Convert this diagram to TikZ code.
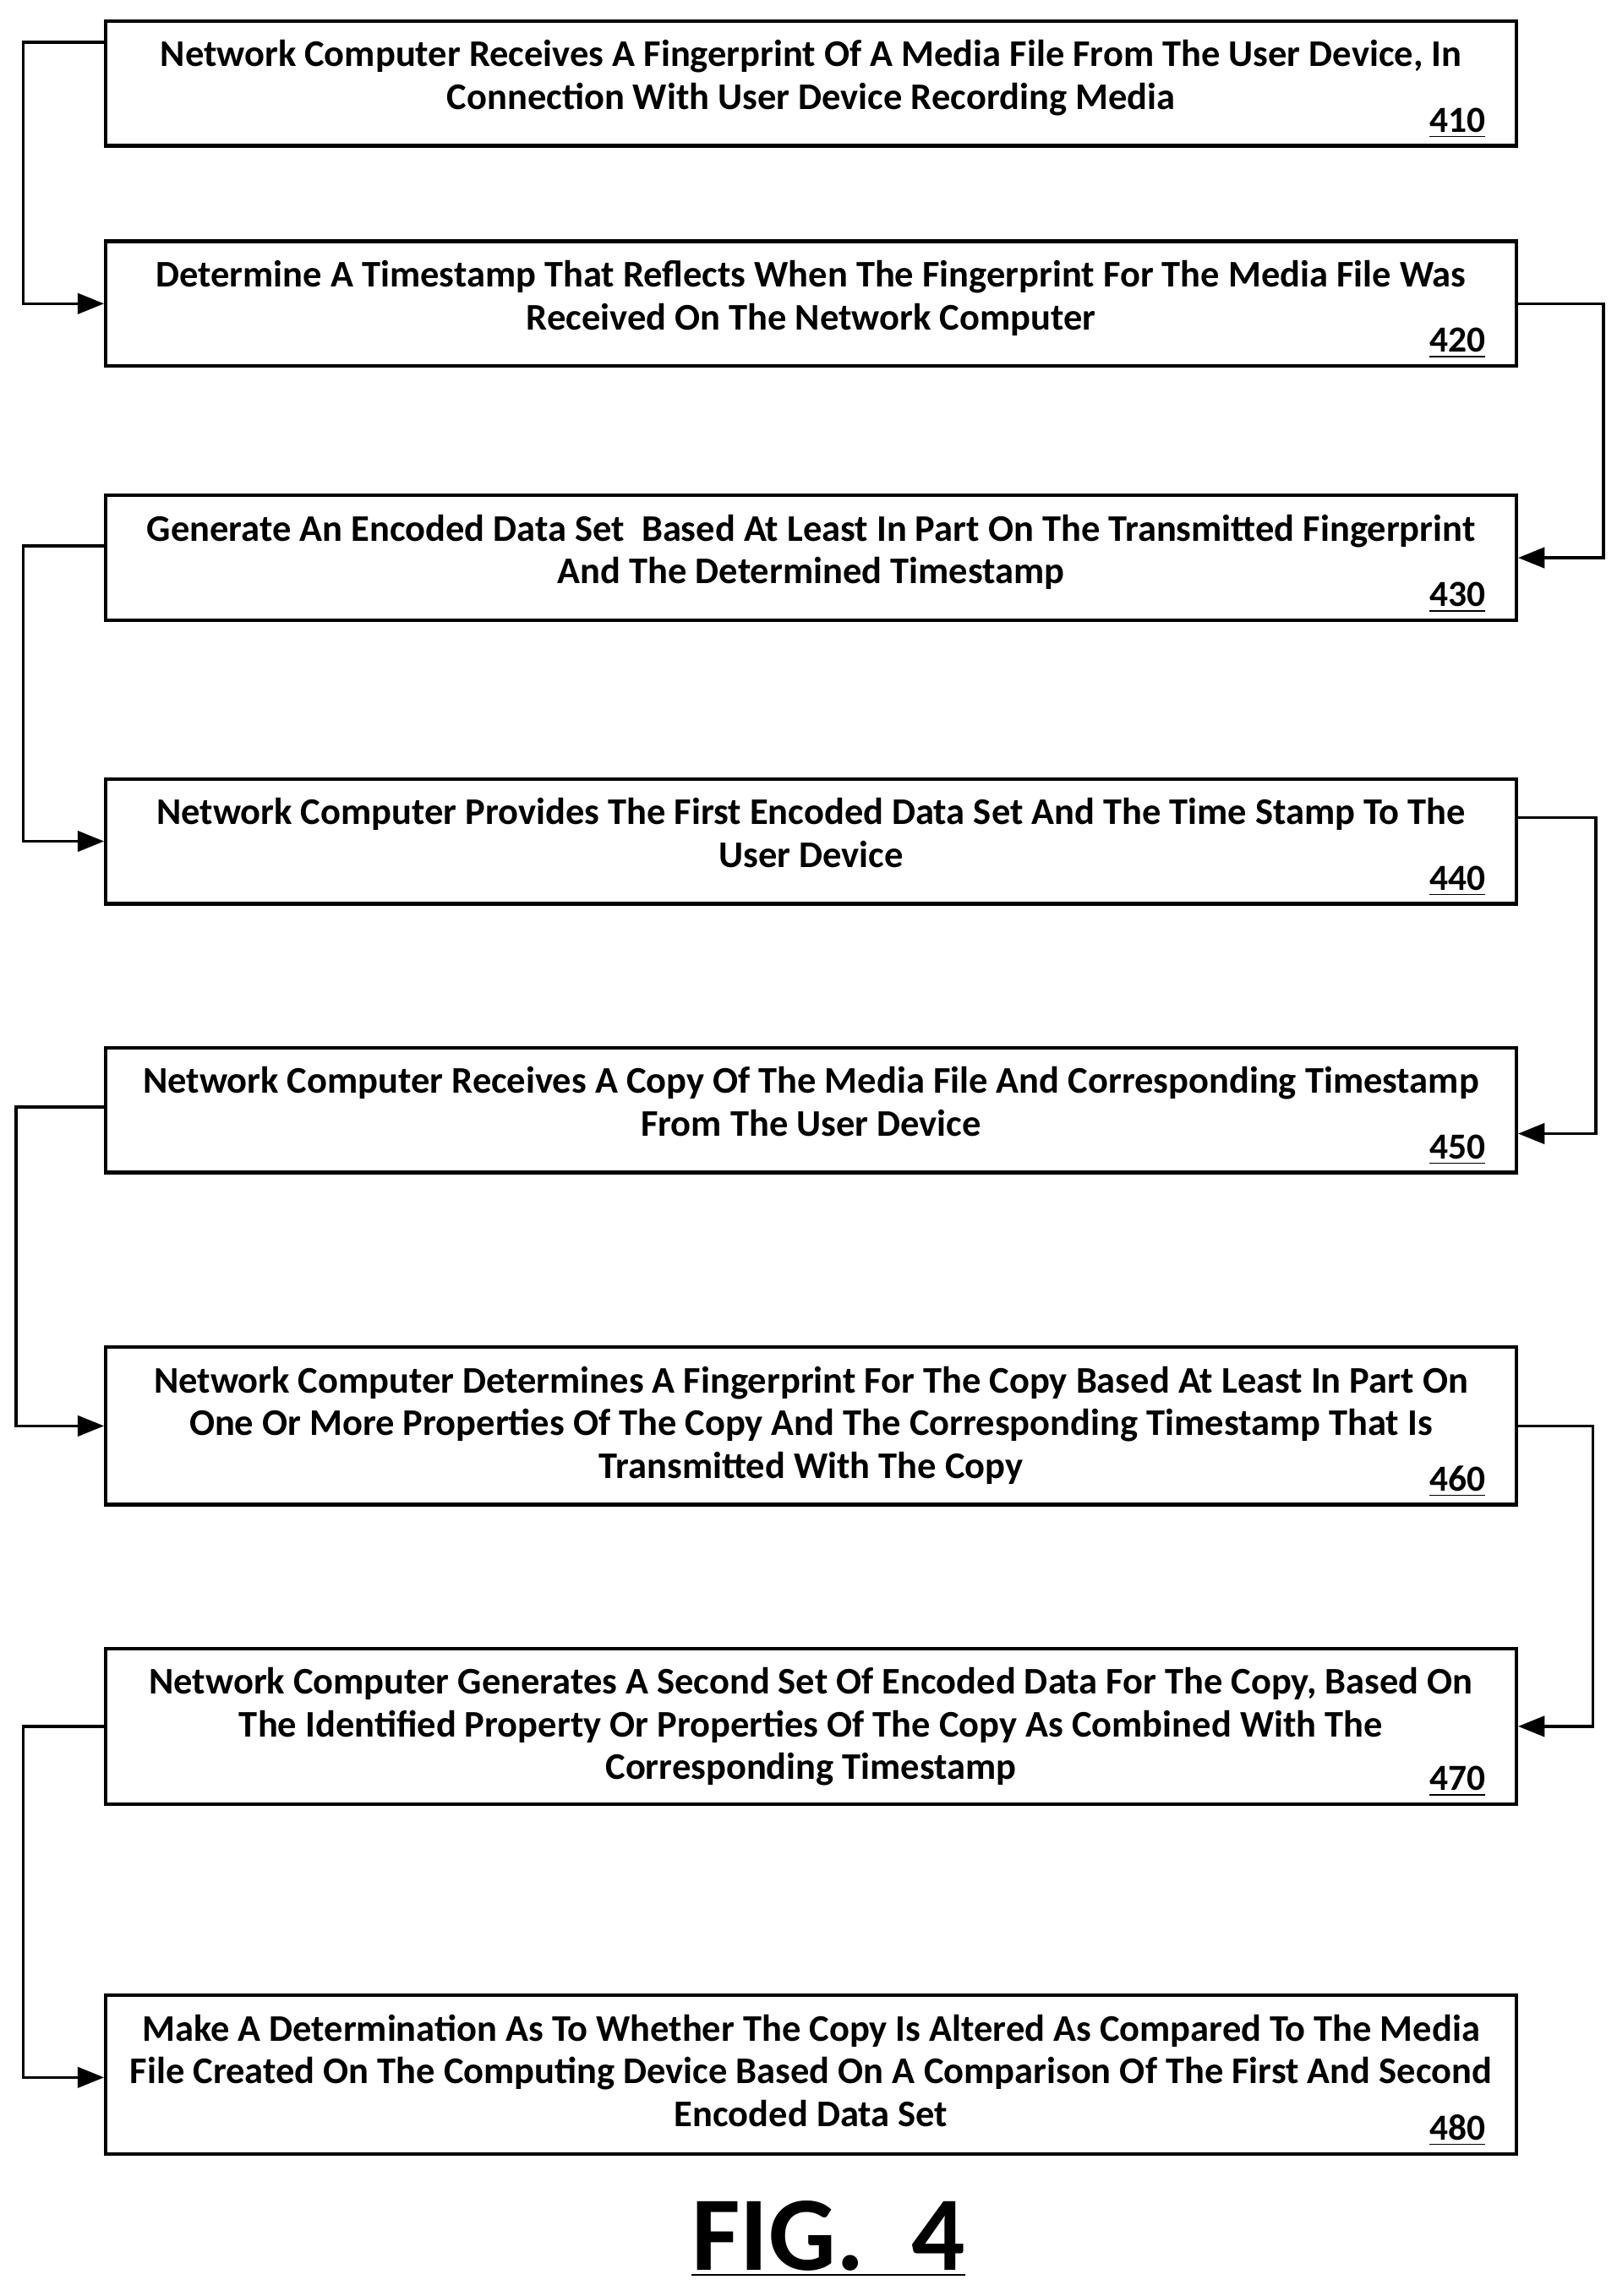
\documentclass[tikz,border=0pt]{standalone}
\usepackage{fontspec}
\setmainfont{Carlito}
\usetikzlibrary{arrows.meta}
\tikzset{
  stepbox/.style={draw, line width=1.2pt, minimum width=480pt, inner sep=0pt},
  steptext/.style={below, align=center, font=\bfseries\fontsize{12.8}{14.5}\selectfont, inner sep=0pt},
  stepnum/.style={anchor=south east, font=\bfseries\fontsize{12.5}{14}\selectfont, inner sep=0pt},
  flow/.style={line width=1pt, -{Triangle[length=9pt,width=7pt]}}
}
\newcommand{\stepnode}[5]{%
  \node[stepbox, minimum height=#3pt, anchor=north] (b#1) at (276pt,-#2pt) {};
  \node[steptext] (t#1) at ([yshift=-7pt]b#1.north) {#4};
  \node[stepnum] (n#1) at ([xshift=-11pt,yshift=3pt]b#1.south east) {\underline{#5}};
}
\begin{document}
\begin{tikzpicture}
\useasboundingbox (0,0) rectangle (550pt,-781.5pt);
\stepnode{410}{6.5}{42.5}{Network Computer Receives A Fingerprint Of A Media File From The User Device, In\\ Connection With User Device Recording Media}{410}
\stepnode{420}{81.5}{42.5}{Determine A Timestamp That Reflects When The Fingerprint For The Media File Was\\ Received On The Network Computer}{420}
\stepnode{430}{168}{42.5}{Generate An Encoded Data Set\ \ Based At Least In Part On The Transmitted Fingerprint\\ And The Determined Timestamp}{430}
\stepnode{440}{264.5}{42.5}{Network Computer Provides The First Encoded Data Set And The Time Stamp To The\\ User Device}{440}
\stepnode{450}{356}{42.5}{Network Computer Receives A Copy Of The Media File And Corresponding Timestamp\\ From The User Device}{450}
\stepnode{460}{458}{53.5}{Network Computer Determines A Fingerprint For The Copy Based At Least In Part On\\ One Or More Properties Of The Copy And The Corresponding Timestamp That Is\\ Transmitted With The Copy}{460}
\stepnode{470}{560.5}{53}{Network Computer Generates A Second Set Of Encoded Data For The Copy, Based On\\ The Identified Property Or Properties Of The Copy As Combined With The\\ Corresponding Timestamp}{470}
\stepnode{480}{678.5}{54}{Make A Determination As To Whether The Copy Is Altered As Compared To The Media\\ File Created On The Computing Device Based On A Comparison Of The First And Second\\ Encoded Data Set}{480}

\draw[flow] ([yshift=14pt]b410.west) -- ++(-27.5pt,0) |- (b420.west);
\draw[flow] (b420.east) -- ++(29pt,0) |- (b430.east);
\draw[flow] ([yshift=4pt]b430.west) -- ++(-27.5pt,0) |- (b440.west);
\draw[flow] ([yshift=8pt]b440.east) -- ++(26.5pt,0) |- ([yshift=-8pt]b450.east);
\draw[flow] ([yshift=1pt]b450.west) -- ++(-30pt,0) |- (b460.west);
\draw[flow] (b460.east) -- ++(25.5pt,0) |- (b470.east);
\draw[flow] (b470.west) -- ++(-27.5pt,0) |- ([yshift=-1pt]b480.west);

\node[font=\bfseries\fontsize{36}{36}\selectfont, inner sep=0pt] (fig) at (282pt,-762pt) {\underline{FIG.\ \ 4}};
\end{tikzpicture}
\end{document}
